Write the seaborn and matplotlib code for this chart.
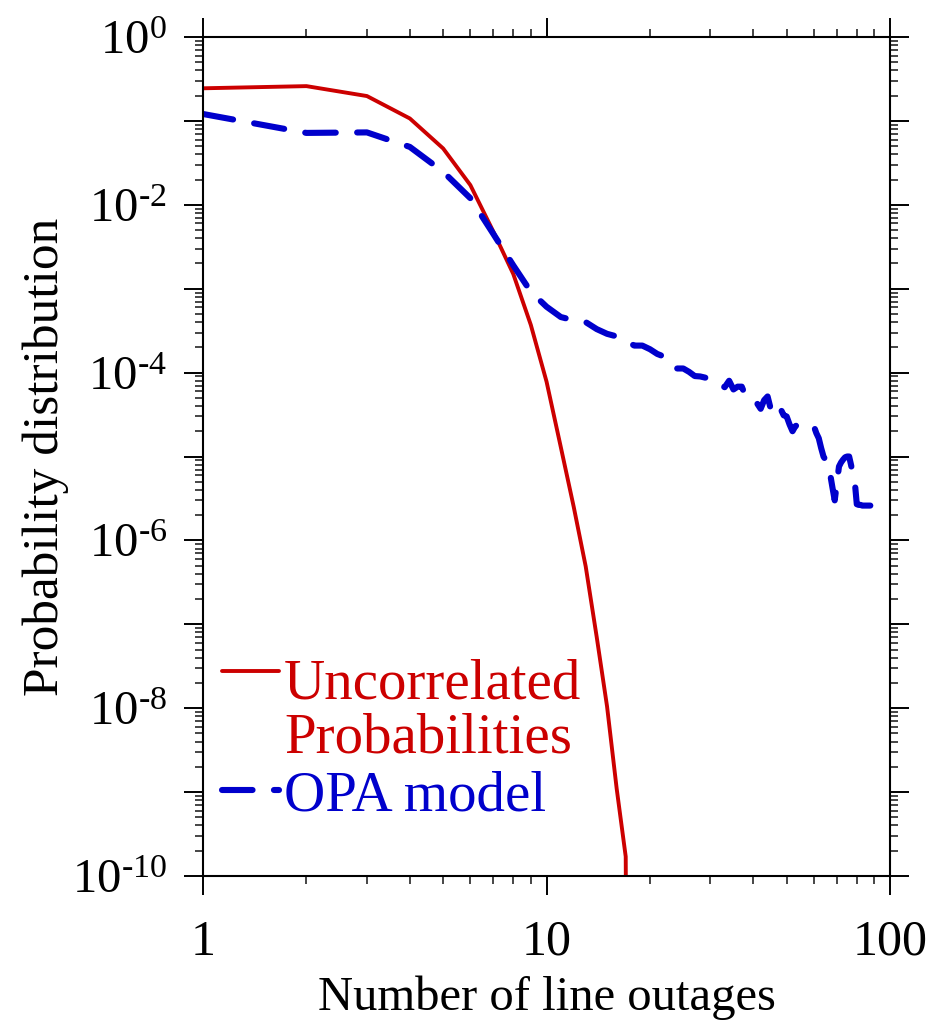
import numpy as np
import pandas as pd
import matplotlib
matplotlib.use("Agg")
import matplotlib.pyplot as plt
import seaborn as sns
from matplotlib.ticker import FixedLocator, FixedFormatter, LogLocator, NullFormatter

# data (x = number of line outages, y = probability)
uncorr_x = [1, 2, 3, 4, 5, 6, 7, 8, 9, 10, 11, 12, 13, 14, 15, 16, 17, 18]
uncorr_p = [0.245, 0.26, 0.198, 0.107, 0.047, 0.0172, 0.0048, 0.0015, 3.7e-4,
            7.8e-5, 1.3e-5, 2.5e-6, 4.9e-7, 7.0e-8, 1.05e-8, 1.1e-9, 1.7e-10, 1e-30]

opa_x = list(range(1, 92))
opa_p = [0.121, 0.072, 0.073, 0.049, 0.0248, 0.012, 0.0045, 0.0019, 9.2e-4, 6.1e-4,
         4.6e-4, 4.2e-4, 4.0e-4, 3.3e-4, 2.9e-4, 2.7e-4, 2.4e-4, 2.1e-4, 2.1e-4, 1.9e-4,
         1.67e-4, 1.55e-4, 1.23e-4, 1.12e-4, 1.12e-4, 1.02e-4, 9.1e-5, 9.0e-5, 8.7e-5, 8.5e-5,
         7.8e-5, 7.1e-5, 6.7e-5, 8.0e-5, 6.3e-5, 6.8e-5, 6.8e-5, 5.2e-5, 4.7e-5, 4.5e-5,
         4.3e-5, 3.7e-5, 4.7e-5, 5.2e-5, 3.6e-5, 3.9e-5, 4.3e-5, 3.7e-5, 3.1e-5, 3.0e-5,
         2.4e-5, 2.0e-5, 2.3e-5, 2.4e-5, 2.35e-5, 2.35e-5, 2.35e-5, 2.3e-5, 2.3e-5, 2.3e-5,
         1.9e-5, 1.65e-5, 1.26e-5, 1.0e-5, 9.0e-6, 8.3e-6, 6.0e-6, 4.2e-6, 3.0e-6, 4.8e-6,
         7.6e-6, 8.5e-6, 9.2e-6, 9.8e-6, 1.0e-5, 1.0e-5, 7.9e-6, 6.0e-6, 4.8e-6, 2.7e-6,
         2.65e-6, 2.65e-6, 2.6e-6, 2.6e-6, 2.6e-6, 2.6e-6, 2.6e-6, 2.6e-6, 2.6e-6, 2.6e-6,
         2.6e-6]

labels = ["Uncorrelated\nProbabilities", "OPA model"]
colors = ["#cc0000", "#0000cc"]

x_ticks = [1, 10, 100]
x_ticklabels = ["1", "10", "100"]
y_exponents = list(range(-10, 1))

sns.set_style("white")
plt.rcParams["font.family"] = ["Liberation Serif", "DejaVu Serif"]
plt.rcParams["mathtext.fontset"] = "custom"
plt.rcParams["mathtext.rm"] = "Liberation Serif"
plt.rcParams["mathtext.it"] = "Liberation Serif:italic"
plt.rcParams["mathtext.bf"] = "Liberation Serif:bold"
plt.rcParams["text.color"] = "black"
plt.rcParams["axes.labelcolor"] = "black"

fig = plt.figure(figsize=(9.33, 10.32), dpi=100)
ax = fig.add_axes([0.2176, 0.1512, 0.7364, 0.8129])

df_u = pd.DataFrame({"x": uncorr_x, "p": uncorr_p})
df_o = pd.DataFrame({"x": opa_x, "p": opa_p})

sns.lineplot(data=df_u, x="x", y="p", ax=ax, color=colors[0], linewidth=2.8,
             label=labels[0])
sns.lineplot(data=df_o, x="x", y="p", ax=ax, color=colors[1], linewidth=4.4,
             label=labels[1], linestyle=(0, (5, 3.5)), dash_capstyle="round",
             dash_joinstyle="round")

ax.set_xscale("log")
ax.set_yscale("log")
ax.set_xlim(1, 100)
ax.set_ylim(1e-10, 1)

ax.xaxis.set_major_locator(FixedLocator(x_ticks))
ax.xaxis.set_major_formatter(FixedFormatter(x_ticklabels))
ax.xaxis.set_minor_locator(LogLocator(base=10, subs=np.arange(2, 10), numticks=50))
ax.xaxis.set_minor_formatter(NullFormatter())

# hyphen instead of the wide math minus, as in the reference
y_ticks = [10.0 ** e for e in y_exponents]
y_labels = [r"$\mathregular{10^{%s}}$" % str(e).replace("-", "\u2010") if e % 2 == 0 else ""
            for e in y_exponents]
ax.yaxis.set_major_locator(FixedLocator(y_ticks))
ax.yaxis.set_major_formatter(FixedFormatter(y_labels))
ax.yaxis.set_minor_locator(LogLocator(base=10, subs=np.arange(2, 10), numticks=50))
ax.yaxis.set_minor_formatter(NullFormatter())

ax.tick_params(which="major", direction="out", length=14, width=1.4, pad=12,
               labelsize=35, colors="black", top=True, right=True, left=True, bottom=True)
ax.tick_params(axis="x", which="major", pad=17, labelsize=36)
ax.tick_params(which="minor", direction="out", length=6, width=1.2,
               top=True, right=True, left=True, bottom=True)
for s in ax.spines.values():
    s.set_linewidth(1.5)
    s.set_color("black")

ax.set_xlabel("Number of line outages", fontsize=35, labelpad=7)
ax.set_ylabel("Probability distribution", fontsize=37, labelpad=2)

leg = ax.legend(loc="lower left", bbox_to_anchor=(0.027, 0.064), frameon=False,
                fontsize=41, handlelength=1.0, handletextpad=0.1, borderpad=0,
                borderaxespad=0, labelspacing=0.1)
for txt, c in zip(leg.get_texts(), colors):
    txt.set_color(c)
    txt.set_linespacing(1.05)
# put the red handle next to the first line of its label
red_handle = leg.legend_handles[0]
red_handle.set_ydata(np.asarray(red_handle.get_ydata()) + 29)

fig.savefig("out.png", dpi=100)
